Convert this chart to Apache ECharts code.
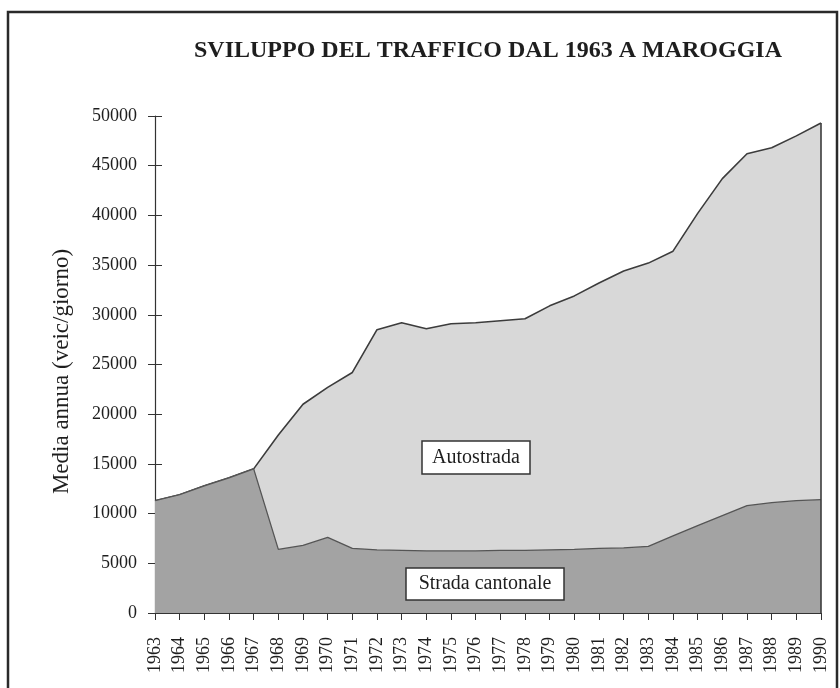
<!DOCTYPE html>
<html>
<head>
<meta charset="utf-8">
<script src="https://cdn.jsdelivr.net/npm/echarts@6/dist/echarts.min.js"></script>
<style>
html,body{margin:0;padding:0;background:#fff;}
#chart{width:840px;height:688px;}
</style>
</head>
<body>
<div id="chart"></div>
<script>
var years = ['1963','1964','1965','1966','1967','1968','1969','1970','1971','1972','1973','1974','1975','1976','1977','1978','1979','1980','1981','1982','1983','1984','1985','1986','1987','1988','1989','1990'];
var totale = [11300,11900,12800,13600,14500,17900,21000,22700,24200,28500,29200,28600,29100,29200,29400,29600,30900,31900,33200,34400,35200,36400,40200,43700,46200,46800,48000,49300];
var stradaCantonale = [11300,11900,12800,13600,14500,6400,6800,7600,6500,6350,6300,6250,6250,6250,6300,6300,6350,6400,6500,6550,6700,7750,8800,9800,10800,11100,11300,11400];
var titleText = 'SVILUPPO DEL TRAFFICO DAL 1963 A MAROGGIA';
var yAxisName = 'Media annua (veic/giorno)';
var labelAutostrada = 'Autostrada';
var labelCantonale = 'Strada cantonale';

var FONT = '"Liberation Serif","DejaVu Serif",serif';
var chart = echarts.init(document.getElementById('chart'), null, {renderer:'canvas'});
var last = years.length - 1;
chart.setOption({
  animation: false,
  backgroundColor: '#ffffff',
  title: {
    text: titleText,
    left: 483, top: 34,
    textAlign: 'center',
    textStyle: {fontFamily: FONT, fontSize: 24, fontWeight: 'bold', color: '#1e1e1e'}
  },
  grid: {left: 155, top: 116, right: 19, bottom: 75, containLabel: false},
  xAxis: {
    type: 'category',
    data: years,
    boundaryGap: false,
    axisLine: {lineStyle: {color: '#333', width: 1.2}},
    axisTick: {show: true, length: 7, alignWithLabel: true, lineStyle: {color: '#333'}},
    axisLabel: {rotate: 90, fontFamily: FONT, fontSize: 18, color: '#1e1e1e', margin: 24, interval: 0},
    splitLine: {show: false}
  },
  yAxis: [{
    type: 'value',
    min: 0, max: 50000, interval: 5000,
    name: yAxisName,
    nameLocation: 'middle',
    nameRotate: 90,
    nameGap: 82,
    nameTextStyle: {fontFamily: FONT, fontSize: 23, color: '#1e1e1e', padding: [0, 14, 0, 0]},
    axisLine: {show: true, lineStyle: {color: '#333', width: 1.2}},
    axisTick: {show: true, length: 7, lineStyle: {color: '#333'}},
    axisLabel: {fontFamily: FONT, fontSize: 18, color: '#1e1e1e', margin: 18,
      formatter: function (v) { return String(v); }},
    splitLine: {show: false}
  },{
    type: 'value',
    position: 'left',
    offset: 0,
    min: 0, max: 50000, interval: 5000,
    axisLine: {show: false},
    axisTick: {show: true, inside: true, length: 7, lineStyle: {color: '#333'}},
    axisLabel: {show: false},
    splitLine: {show: false}
  }],
  series: [{
    name: labelAutostrada,
    type: 'line',
    data: totale,
    symbol: 'none',
    lineStyle: {color: '#3c3c3c', width: 1.6},
    areaStyle: {color: '#d8d8d8', opacity: 1},
    markLine: {
      silent: true, symbol: 'none', label: {show: false},
      lineStyle: {color: '#3c3c3c', width: 1.6, type: 'solid'},
      data: [[{coord: [years[last], 0]}, {coord: [years[last], totale[last]]}]]
    },
    z: 2
  },{
    name: labelCantonale,
    type: 'line',
    data: stradaCantonale,
    symbol: 'none',
    lineStyle: {color: '#555555', width: 1.3},
    areaStyle: {color: '#a3a3a3', opacity: 1},
    z: 3
  }],
  graphic: {
    elements: [{
      type: 'rect',
      shape: {x: 8, y: 12, width: 829, height: 700},
      style: {fill: 'transparent', stroke: '#2a2a2a', lineWidth: 2.5},
      silent: true, z: 100
    },{
      type: 'rect',
      shape: {x: 422, y: 441, width: 108, height: 33},
      style: {fill: '#ffffff', stroke: '#333333', lineWidth: 1.5},
      silent: true, z: 100
    },{
      type: 'text',
      x: 476, y: 458,
      style: {text: labelAutostrada, font: '20px "Liberation Serif", serif', fill: '#1e1e1e', textAlign: 'center', textVerticalAlign: 'middle', align: 'center', verticalAlign: 'middle'},
      silent: true, z: 101
    },{
      type: 'rect',
      shape: {x: 406, y: 568, width: 158, height: 32},
      style: {fill: '#ffffff', stroke: '#333333', lineWidth: 1.5},
      silent: true, z: 100
    },{
      type: 'text',
      x: 485, y: 584,
      style: {text: labelCantonale, font: '20px "Liberation Serif", serif', fill: '#1e1e1e', textAlign: 'center', textVerticalAlign: 'middle', align: 'center', verticalAlign: 'middle'},
      silent: true, z: 101
    }]
  }
});
</script>
</body>
</html>
